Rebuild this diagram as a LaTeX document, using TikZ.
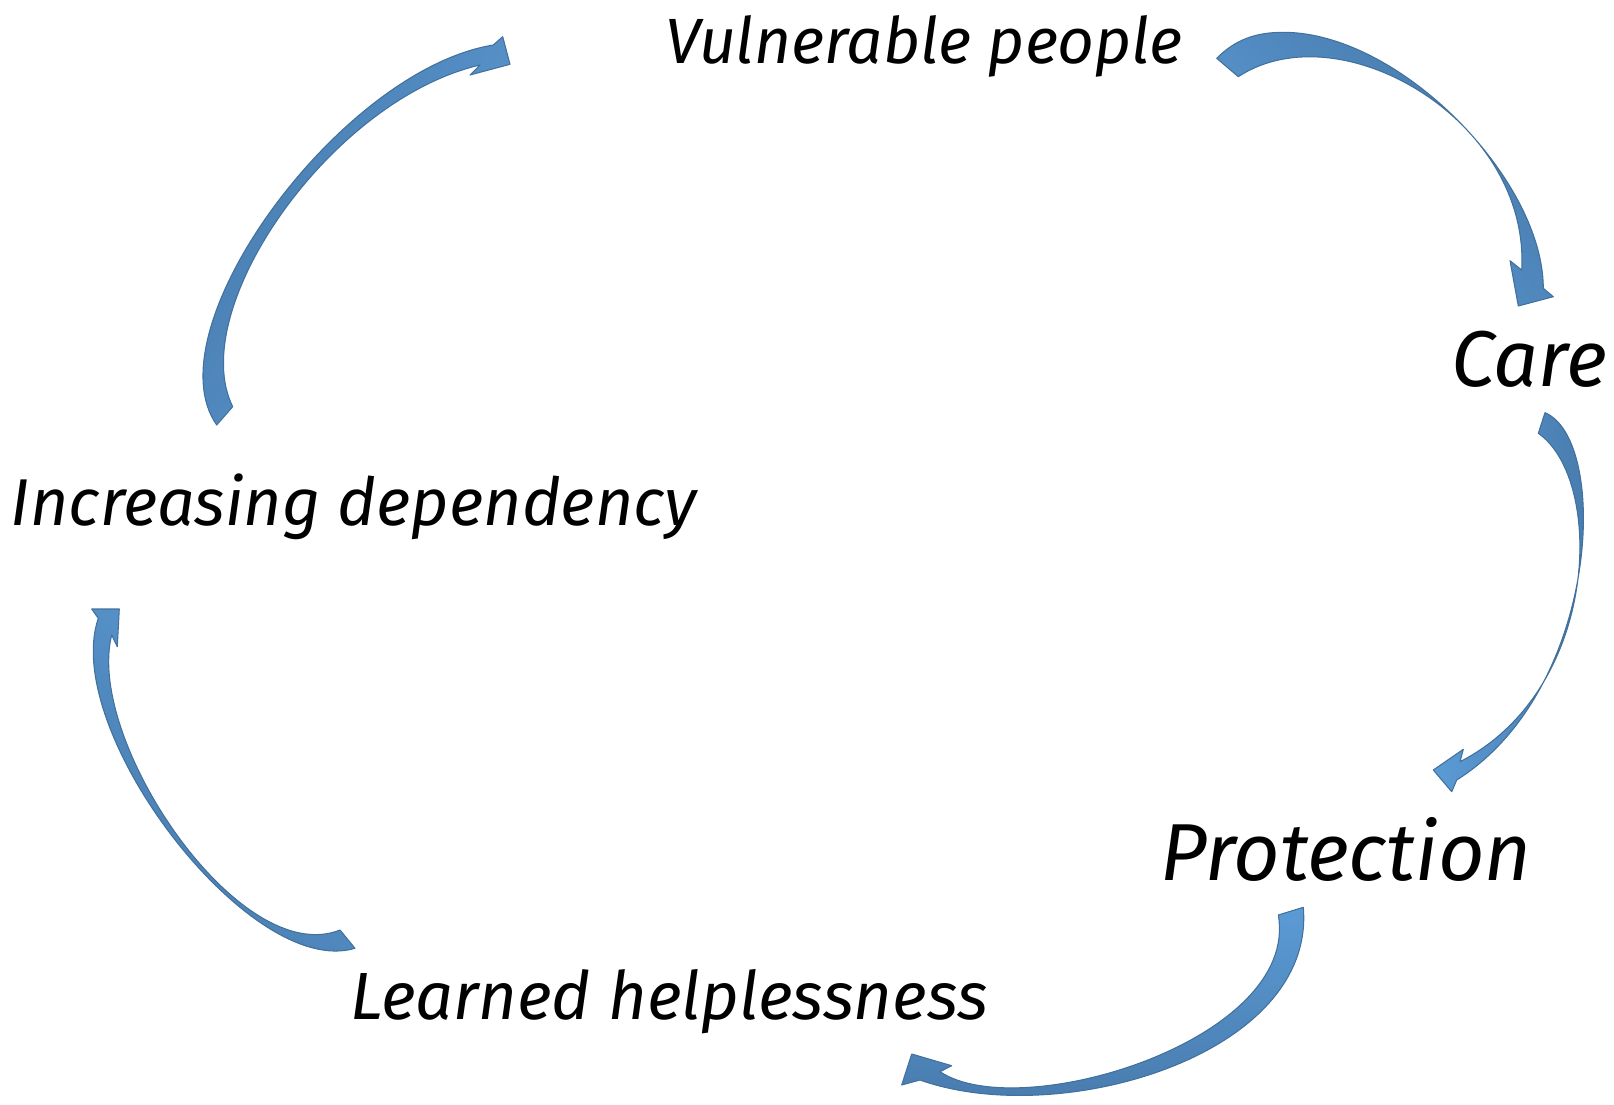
\documentclass[tikz,border=0pt]{standalone}
\usepackage{fontspec}
\setmainfont{Fira Sans}
\usepackage{tikz}
\usetikzlibrary{positioning}
\usepackage{xcolor}
\definecolor{headblue}{HTML}{5B9BD5}
\definecolor{tailblue}{HTML}{4677A8}
\definecolor{edgeblue}{HTML}{41719C}

\begin{document}
\begin{tikzpicture} [
		x=0.02cm, y=-0.02cm,
		stage/.style    = { inner sep=0pt, anchor=base, font=\itshape },
		bendarrow/.style = { draw=edgeblue, line width=0.6pt, line join=round,
			left color=tailblue, right color=headblue, shading angle=#1 },
		]
		\useasboundingbox (0,0) rectangle (1614,1105);
		% Define the stages of the cycle
		\node [stage, font=\itshape\fontsize{36.4}{40}\selectfont] (vuln)  at (924,64)  {Vulnerable people};
		\node [stage, font=\itshape\fontsize{45}{50}\selectfont] (care)  at (1529,386) {Care};
		\node [stage, font=\itshape\fontsize{46}{50}\selectfont] (prot)  at (1346,880) {Protection};
		\node [stage, font=\itshape\fontsize{38}{44}\selectfont] (learn) at (669,1019) {Learned helplessness};
		\node [stage, font=\itshape\fontsize{37.7}{44}\selectfont] (incr)  at (354,525) {Increasing dependency};
		% curved block arrows between the stages
		% dependency -> vulnerable
		\path[bendarrow=60]
		(216.7,425) .. controls (150,330) and (340,70) .. (493.3,45)
		-- (502.7,36.7) -- (510,64.3) -- (470,75) -- (480,65)
		.. controls (330,100) and (185,310) .. (232.7,406.7) -- cycle;
		% vulnerable -> care
		\path[bendarrow=-45]
		(1216.7,58.3) .. controls (1235,40) and (1255,32.3) .. (1283.3,32.3)
		.. controls (1400,32.3) and (1543.3,180) .. (1543.3,288.3)
		-- (1553.3,296.7) -- (1518.3,306) -- (1510,260.7) -- (1521.7,270)
		.. controls (1530,120) and (1340,10) .. (1238.3,76.7) -- cycle;
		% care -> protection
		\path[bendarrow=-90]
		(1545,412.7) .. controls (1610,440) and (1600,690) .. (1456.7,780)
		-- (1451.7,791.7) -- (1433.3,770) -- (1463.3,749.3) -- (1460,761.7)
		.. controls (1600,690) and (1605,480) .. (1538.3,433.3) -- cycle;
		% protection -> helplessness
		\path[bendarrow=180]
		(1303.3,907.3) .. controls (1316,1055) and (1060,1130) .. (920,1080)
		-- (901.7,1085) -- (911.7,1054) -- (951.7,1065.7) -- (940,1071.7)
		.. controls (1020,1125) and (1300,1040) .. (1278.3,915) -- cycle;
		% helplessness -> dependency
		\path[bendarrow=135]
		(355,948.3) .. controls (250,980) and (60,730) .. (98.3,618.3)
		-- (91.7,609) -- (119.3,609) -- (117.3,646.7) -- (111.7,635)
		.. controls (85,740) and (240,970) .. (340,930) -- cycle;
\end{tikzpicture}
\end{document}
